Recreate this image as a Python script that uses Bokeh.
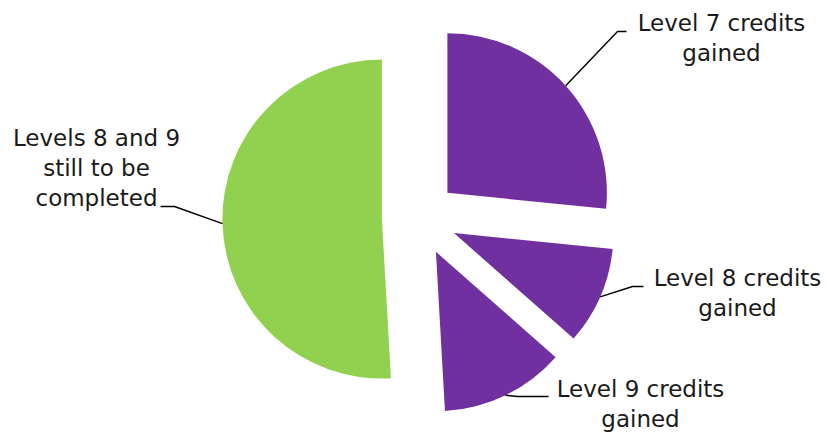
import numpy as np
from bokeh.plotting import figure
from bokeh.models import Range1d, ColumnDataSource
from bokeh.embed import file_html
from bokeh.resources import INLINE
from bokeh.core.properties import value

# ---- data ----
categories = ["Level 7 credits gained", "Level 8 credits gained",
              "Level 9 credits gained", "Levels 8 and 9 still to be completed"]
label_lines = [["Level 7 credits", "gained"],
               ["Level 8 credits", "gained"],
               ["Level 9 credits", "gained"],
               ["Levels 8 and 9", "still to be", "completed"]]
shares = [26.6, 9.9, 12.6, 50.9]
colors = ["#7030A0", "#7030A0", "#7030A0", "#92D050"]

# ---- layout (pixel coords, y down) ----
W, H = 829, 438
CX, CY_PX = 419.0, 217.5
R = 159.5
EXPLODE = 37.6
LINE_GAP = 30
TEXT_SHIFT = -8
# text center x, first baseline y, elbow (x, y), end (x, y)
label_layout = [
    (721, 30, (617, 31), (626, 31)),
    (737, 285, (632, 286), (643, 286)),
    (640, 396, (517, 396), (548, 396)),
    (96, 145, (174, 206), (160, 206)),
]

def up(y_px):
    return H - y_px

vals = np.array(shares, dtype=float)
fr = vals / vals.sum()
theta_end = np.cumsum(fr) * 2 * np.pi
theta_start = theta_end - fr * 2 * np.pi
theta_mid = (theta_start + theta_end) / 2

cx = CX + EXPLODE * np.sin(theta_mid)
cy = up(CY_PX) + EXPLODE * np.cos(theta_mid)

wedges = ColumnDataSource(dict(
    x=cx, y=cy,
    start=np.pi / 2 - theta_end,
    end=np.pi / 2 - theta_start,
    color=colors, cat=categories,
))

p = figure(width=W, height=H, x_range=Range1d(0, W), y_range=Range1d(0, H),
           output_backend="svg", toolbar_location=None,
           x_axis_type=None, y_axis_type=None,
           min_border=0, min_border_left=0, min_border_right=0,
           min_border_top=0, min_border_bottom=0)
p.grid.visible = False
p.outline_line_color = None
p.background_fill_color = "white"
p.border_fill_color = "white"

p.wedge(x="x", y="y", radius=R, start_angle="start", end_angle="end",
        fill_color="color", line_color=None, source=wedges)

# leader lines
xs, ys = [], []
for i, (tx, by, elbow, end) in enumerate(label_layout):
    sx = cx[i] + R * np.sin(theta_mid[i])
    sy = cy[i] + R * np.cos(theta_mid[i])
    xs.append([sx, elbow[0], end[0]])
    ys.append([sy, up(elbow[1]), up(end[1])])
p.multi_line(xs=xs, ys=ys, line_color="black", line_width=1.4)

# labels
tx_all, ty_all, tt_all = [], [], []
for i, (tx, by, elbow, end) in enumerate(label_layout):
    for k, line in enumerate(label_lines[i]):
        tx_all.append(tx)
        ty_all.append(up(by + TEXT_SHIFT + k * LINE_GAP))
        tt_all.append(line)
p.text(x=tx_all, y=ty_all, text=tt_all, text_font=value("DejaVu Sans"),
       text_font_size="23px", text_align="center", text_baseline="alphabetic",
       text_color="#1a1a1a")

open("out.html", "w").write(file_html(p, INLINE))
